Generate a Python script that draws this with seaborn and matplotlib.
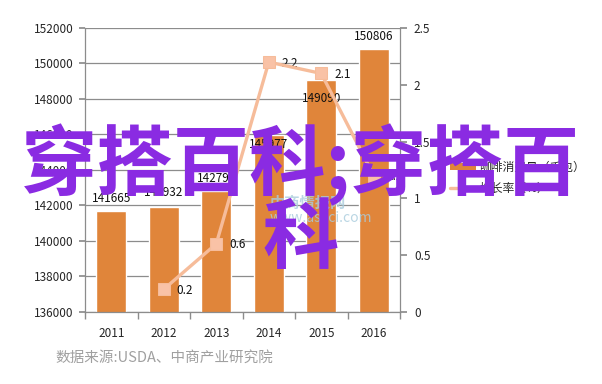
import numpy as np
import pandas as pd
import seaborn as sns
import matplotlib.pyplot as plt
from matplotlib.patches import Patch
from matplotlib.lines import Line2D

# data
years = ["2011", "2012", "2013", "2014", "2015", "2016"]
consumption = [141665, 141932, 142796, 145977, 149090, 150806]
growth = [np.nan, 0.2, 0.6, 2.2, 2.1, 1.2]
left_ticks = [136000, 138000, 140000, 142000, 144000, 146000, 148000, 150000, 152000]
right_ticks = [0, 0.5, 1, 1.5, 2, 2.5]
right_labels = ["0", "0.5", "1", "1.5", "2", "2.5"]

# where each bar label sits relative to the bar top (pixels, up is positive)
bar_label_dy = [13, 14, 13, -10, -19, 13]

BAR = "#E0853A"
LINE = "#F6BC9A"
GRID = "#8C8C8C"

sns.set_theme(style="white")
plt.rcParams["font.family"] = ["Noto Sans CJK SC", "DejaVu Sans"]

df = pd.DataFrame({"year": years, "consumption": consumption,
                   "pos": np.arange(len(years)), "growth": growth})

fig = plt.figure(figsize=(6.02, 3.84), dpi=100)
ax = fig.add_axes([85 / 602, 1 - 312 / 384, 315 / 602, 284 / 384])

sns.barplot(data=df, x="year", y="consumption", color=BAR, saturation=1,
            width=0.57, ax=ax, zorder=2)
ax.set_ylim(136000, 152000)
ax.set_xlim(-0.5, 5.5)
ax.set_yticks(left_ticks)
ax.set_xlabel("")
ax.set_ylabel("")
ax.yaxis.grid(True, color=GRID, linewidth=0.9)
ax.set_axisbelow(True)
for s in ["top", "right"]:
    ax.spines[s].set_visible(False)
for s in ["left", "bottom"]:
    ax.spines[s].set_color(GRID)
    ax.spines[s].set_linewidth(0.9)
ax.tick_params(axis="y", left=True, length=4, color=GRID, labelsize=8.5, pad=4)
ax.set_xticks(np.arange(-0.5, 6, 1), minor=True)
ax.tick_params(axis="x", which="minor", bottom=True, length=5, color=GRID)
ax.tick_params(axis="x", which="major", bottom=False, labelsize=8.5, pad=5)

for i, v in enumerate(consumption):
    ax.annotate(str(v), (i, v), xytext=(0, bar_label_dy[i]), textcoords="offset pixels",
                ha="center", va="center", fontsize=8.5, color="#111111", zorder=5)

ax2 = ax.twinx()
sns.lineplot(data=df, x="pos", y="growth", color=LINE, linewidth=2.4, marker="s",
             markersize=8, markeredgecolor=LINE, markerfacecolor="#F9C2A6", ax=ax2,
             zorder=4)
ax2.set_ylim(0, 2.5)
ax2.set_yticks(right_ticks)
ax2.set_yticklabels(right_labels)
ax2.set_xlim(-0.5, 5.5)
ax2.set_xlabel("")
ax2.set_ylabel("")
for s in ["top", "left", "bottom"]:
    ax2.spines[s].set_visible(False)
ax2.spines["right"].set_color(GRID)
ax2.spines["right"].set_linewidth(0.9)
ax2.tick_params(axis="y", right=True, length=5, color=GRID, labelsize=8.5, pad=5)

for i, g in enumerate(growth):
    if not np.isnan(g):
        ax2.annotate(f"{g:g}", (i, g), xytext=(13, -1), textcoords="offset pixels",
                     ha="left", va="center", fontsize=8.5, color="#111111")

handles = [Patch(facecolor=BAR, edgecolor="none"),
           Line2D([0], [0], color=LINE, linewidth=2.4)]
fig.legend(handles, ["咖啡消费量（千包）", "增长率（%）"], loc="upper left",
           bbox_to_anchor=(439 / 602, 1 - 150 / 384), frameon=False, fontsize=8.5,
           handlelength=2.2, handleheight=0.5, labelspacing=0.7, handletextpad=0.3)

# faint site watermark behind the overlay
fig.text(270 / 602, 1 - 203 / 384, "中商情报网", color="#A9CCDD", fontsize=11,
         fontweight="bold", alpha=0.8, ha="left", va="center")
fig.text(270 / 602, 1 - 218 / 384, "www.askci.com", color="#A9CCDD", fontsize=10,
         alpha=0.8, ha="left", va="center")

# purple overlay text
fig.text(301 / 602, 1 - 201 / 384, "穿搭百科;穿搭百\n科", color="#8A2BE2",
         fontsize=55, fontweight="bold", ha="center", va="center",
         multialignment="center", linespacing=0.92, zorder=10)

fig.text(55 / 602, 1 - 358 / 384, "数据来源:USDA、中商产业研究院", color="#A0A0A0",
         fontsize=10.5, ha="left", va="center")

fig.savefig("out.png", dpi=100)
